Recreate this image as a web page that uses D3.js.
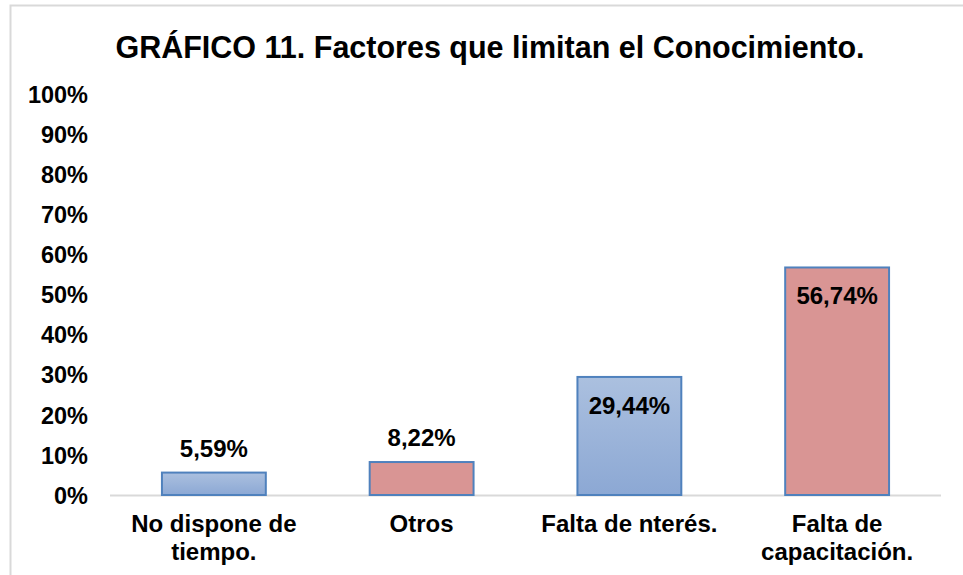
<!DOCTYPE html>
<html><head><meta charset="utf-8">
<script src="https://cdn.jsdelivr.net/npm/d3@7"></script>
<style>
html,body{margin:0;padding:0;background:#fff;}
text{font-family:"Liberation Sans",Arial,sans-serif;font-weight:bold;fill:#000;}
</style></head>
<body>
<svg id="chart" width="963" height="575"></svg>
<script>
const categories = [["No dispone de","tiempo."],["Otros"],["Falta de nterés."],["Falta de","capacitación."]];
const values = [5.59, 8.22, 29.44, 56.74];
const labels = ["5,59%","8,22%","29,44%","56,74%"];
const fillKinds = ["blue","red","blue","red"];
const yTicks = [0,10,20,30,40,50,60,70,80,90,100];
const title = "GRÁFICO 11. Factores que limitan el Conocimiento.";

const svg = d3.select("#chart");
const defs = svg.append("defs");
const gb = defs.append("linearGradient").attr("id","gblue").attr("x1",0).attr("y1",0).attr("x2",0).attr("y2",1);
gb.append("stop").attr("offset","0%").attr("stop-color","#abc0df");
gb.append("stop").attr("offset","100%").attr("stop-color","#8ca8d4");

// outer frame
svg.append("rect").attr("x",10.5).attr("y",5.5).attr("width",980).attr("height",600)
  .attr("fill","none").attr("stroke","#d9d9d9").attr("stroke-width",2);

svg.append("text").attr("x",490).attr("y",58).attr("text-anchor","middle")
  .style("font-size","30.5px").text(title);

const x = d3.scaleBand().domain(d3.range(values.length)).range([110,941]).paddingInner(0.5).paddingOuter(0.25);
const y = d3.scaleLinear().domain([0,100]).range([495,94]);

const yAxis = svg.append("g").attr("transform","translate(110,0)")
  .call(d3.axisLeft(y).tickValues(yTicks).tickFormat(d=>d+"%").tickSize(0).tickPadding(22));
yAxis.select(".domain").remove();
yAxis.selectAll("text").style("font-size","23.5px").style("font-family","Liberation Sans, Arial, sans-serif").style("font-weight","bold").attr("dy","0.35em");

svg.append("line").attr("x1",110).attr("x2",941).attr("y1",495.5).attr("y2",495.5)
  .attr("stroke","#d9d9d9").attr("stroke-width",2);

svg.selectAll("rect.bar").data(values).enter().append("rect").attr("class","bar")
  .attr("x",(d,i)=>x(i)).attr("width",x.bandwidth())
  .attr("y",d=>y(d)).attr("height",d=>y(0)-y(d))
  .attr("fill",(d,i)=>fillKinds[i]==="blue"?"url(#gblue)":"#d99594")
  .attr("stroke","#4f81bd").attr("stroke-width",2);

svg.selectAll("text.val").data(values).enter().append("text").attr("class","val")
  .attr("x",(d,i)=>x(i)+x.bandwidth()/2)
  .attr("y",d=> d>20 ? y(d)+37 : y(d)-16)
  .attr("text-anchor","middle").style("font-size","24px")
  .text((d,i)=>labels[i]);

categories.forEach((lines,i)=>{
  const t = svg.append("text").attr("text-anchor","middle").style("font-size","24px");
  lines.forEach((l,j)=>{
    t.append("tspan").attr("x",x(i)+x.bandwidth()/2).attr("y",532+j*28).text(l);
  });
});
</script>
</body></html>
